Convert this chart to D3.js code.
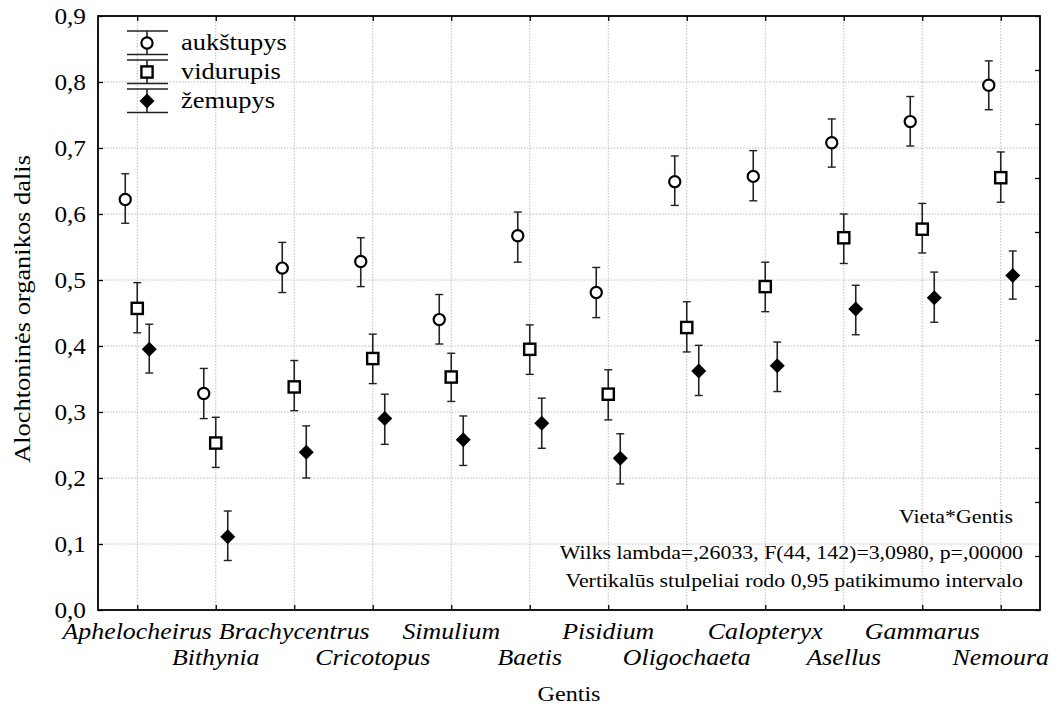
<!DOCTYPE html>
<html>
<head>
<meta charset="utf-8">
<script src="https://cdn.jsdelivr.net/npm/d3@7"></script>
<style>
  html, body { margin: 0; padding: 0; background: #fff; }
  svg { display: block; }
  text { font-family: "Liberation Serif", "Times New Roman", serif; fill: #000; }
</style>
</head>
<body>
<svg id="chart" width="1052" height="706"></svg>
<script>
// ---------------- data ----------------
const categories = ["Aphelocheirus","Bithynia","Brachycentrus","Cricotopus","Simulium","Baetis",
                    "Pisidium","Oligochaeta","Calopteryx","Asellus","Gammarus","Nemoura"];

const seriesNames = ["aukštupys", "vidurupis", "žemupys"];

const aukstupysMean = [0.622,0.328,0.518,0.528,0.440,0.567,0.481,0.649,0.657,0.708,0.740,0.795];
const aukstupysLow  = [0.586,0.290,0.481,0.490,0.403,0.527,0.443,0.613,0.620,0.671,0.703,0.758];
const aukstupysHigh = [0.661,0.366,0.557,0.564,0.478,0.603,0.519,0.688,0.696,0.744,0.778,0.832];

const vidurupisMean = [0.457,0.253,0.338,0.381,0.353,0.395,0.327,0.428,0.490,0.564,0.577,0.655];
const vidurupisLow  = [0.420,0.216,0.302,0.343,0.316,0.357,0.288,0.391,0.452,0.525,0.541,0.618];
const vidurupisHigh = [0.496,0.292,0.378,0.418,0.389,0.432,0.364,0.467,0.527,0.600,0.616,0.694];

const zemupysMean = [0.395,0.111,0.239,0.290,0.258,0.283,0.230,0.362,0.370,0.456,0.473,0.507];
const zemupysLow  = [0.359,0.075,0.200,0.251,0.219,0.245,0.191,0.325,0.331,0.417,0.436,0.471];
const zemupysHigh = [0.433,0.150,0.279,0.327,0.294,0.321,0.267,0.401,0.406,0.492,0.512,0.544];

const yTickValues = [0,0.1,0.2,0.3,0.4,0.5,0.6,0.7,0.8,0.9];
const yTickLabels = ["0,0","0,1","0,2","0,3","0,4","0,5","0,6","0,7","0,8","0,9"];

const xTitle = "Gentis";
const yTitle = "Alochtoninės organikos dalis";
const noteLines = ["Vieta*Gentis",
                   "Wilks lambda=,26033, F(44, 142)=3,0980, p=,00000",
                   "Vertikalūs stulpeliai rodo 0,95 patikimumo intervalo"];

// ---------------- layout ----------------
const svg = d3.select("#chart");
const L = 98, R = 1040, T = 16, B = 610;
const SX = 1.15; // horizontal glyph stretch of reference font

const x = d3.scalePoint().domain(categories).range([L, R]).padding(0.5);
const y = d3.scaleLinear().domain([0, 0.9]).range([B, T]);
const yRight = d3.scaleLinear().domain([0, 11]).range([B, T]);

function txt(parent, px, py, str, size, anchor, opts = {}) {
  const t = parent.append("text")
    .attr("transform", `translate(${px},${py})${opts.rotate ? " rotate(" + opts.rotate + ")" : ""} scale(${opts.sx || SX},1)`)
    .attr("text-anchor", anchor)
    .style("font-size", size + "px")
    .text(str);
  if (opts.italic) t.style("font-style", "italic");
  return t;
}

// grid
const grid = svg.append("g");
grid.selectAll("line.hg").data(yTickValues.filter(v => v > 0 && v < 0.9)).join("line")
  .attr("x1", L).attr("x2", R).attr("y1", d => y(d)).attr("y2", d => y(d))
  .attr("stroke", "#bdbdbd").attr("stroke-width", 1).attr("stroke-dasharray", "1.5,1.5");
grid.selectAll("line.vg").data(categories).join("line")
  .attr("x1", d => x(d)).attr("x2", d => x(d)).attr("y1", T).attr("y2", B)
  .attr("stroke", "#bdbdbd").attr("stroke-width", 1).attr("stroke-dasharray", "1.5,1.5");

// axes (inward ticks)
const axes = svg.append("g");
axes.append("g").attr("transform", `translate(0,${B})`)
  .call(d3.axisTop(x).tickSize(5).tickFormat(""))
  .call(g => g.select(".domain").remove());
axes.append("g").attr("transform", `translate(0,${T})`)
  .call(d3.axisBottom(x).tickSize(5).tickFormat(""))
  .call(g => g.select(".domain").remove());
axes.append("g").attr("transform", `translate(${L},0)`)
  .call(d3.axisRight(y).tickValues(yTickValues).tickSize(5).tickFormat(""))
  .call(g => g.select(".domain").remove());
axes.append("g").attr("transform", `translate(${R},0)`)
  .call(d3.axisLeft(yRight).ticks(11).tickSize(5).tickFormat(""))
  .call(g => g.select(".domain").remove());
axes.selectAll(".tick line").attr("stroke", "#000").attr("stroke-width", 1.3);
axes.append("rect").attr("x", L).attr("y", T).attr("width", R - L).attr("height", B - T)
  .attr("fill", "none").attr("stroke", "#000").attr("stroke-width", 1.8);

// y tick labels
yTickValues.forEach((v, i) => txt(svg, 86, y(v) + 7.5, yTickLabels[i], 23, "end", { sx: 1.1 }));

// x tick labels (alternating rows)
categories.forEach((c, i) => txt(svg, x(c), i % 2 === 0 ? 639 : 665, c, 22.5, "middle", { italic: true }));

// titles
txt(svg, (L + R) / 2, 701, xTitle, 21, "middle");
txt(svg, 30, 309, yTitle, 23, "middle", { rotate: -90 });

// ---------------- series ----------------
const series = [
  { name: seriesNames[0], mean: aukstupysMean, lo: aukstupysLow, hi: aukstupysHigh, dx: -12, sym: "circle" },
  { name: seriesNames[1], mean: vidurupisMean, lo: vidurupisLow, hi: vidurupisHigh, dx: 0, sym: "square" },
  { name: seriesNames[2], mean: zemupysMean, lo: zemupysLow, hi: zemupysHigh, dx: 12, sym: "diamond" }
];

function drawSymbol(g, sym, cx, cy) {
  if (sym === "circle") {
    g.append("circle").attr("cx", cx).attr("cy", cy).attr("r", 5.6)
      .attr("fill", "#fff").attr("stroke", "#000").attr("stroke-width", 2.2);
  } else if (sym === "square") {
    g.append("rect").attr("x", cx - 5.6).attr("y", cy - 5.6).attr("width", 11.2).attr("height", 11.2)
      .attr("fill", "#fff").attr("stroke", "#000").attr("stroke-width", 2.4);
  } else {
    const s = 7.5;
    g.append("path").attr("d", `M${cx},${cy - s}L${cx + s},${cy}L${cx},${cy + s}L${cx - s},${cy}Z`)
      .attr("fill", "#000");
  }
}

const marks = svg.append("g");
series.forEach(s => {
  categories.forEach((c, i) => {
    const cx = x(c) + s.dx;
    const g = marks.append("g");
    g.append("line").attr("x1", cx).attr("x2", cx).attr("y1", y(s.lo[i])).attr("y2", y(s.hi[i]))
      .attr("stroke", "#222").attr("stroke-width", 1.6);
    [s.lo[i], s.hi[i]].forEach(v => g.append("line")
      .attr("x1", cx - 4).attr("x2", cx + 4).attr("y1", y(v)).attr("y2", y(v))
      .attr("stroke", "#222").attr("stroke-width", 1.4));
    drawSymbol(g, s.sym, cx, y(s.mean[i]));
  });
});

// ---------------- legend ----------------
const leg = svg.append("g");
const legY = [43, 72, 101];
series.forEach((s, i) => {
  const cy = legY[i];
  const lx = 147;
  leg.append("line").attr("x1", lx).attr("x2", lx).attr("y1", cy - 12).attr("y2", cy + 11.5)
    .attr("stroke", "#222").attr("stroke-width", 1.6);
  [cy - 12, cy + 11.5].forEach(yy => leg.append("line")
    .attr("x1", 127).attr("x2", 168).attr("y1", yy).attr("y2", yy)
    .attr("stroke", "#222").attr("stroke-width", 1.5));
  drawSymbol(leg, s.sym, lx, cy);
  txt(leg, 181, cy + 7, s.name, 23, "start");
});

// ---------------- notes ----------------
txt(svg, 1013, 523, noteLines[0], 19, "end");
txt(svg, 1023, 559, noteLines[1], 19, "end");
txt(svg, 1023, 587, noteLines[2], 19, "end");
</script>
</body>
</html>
